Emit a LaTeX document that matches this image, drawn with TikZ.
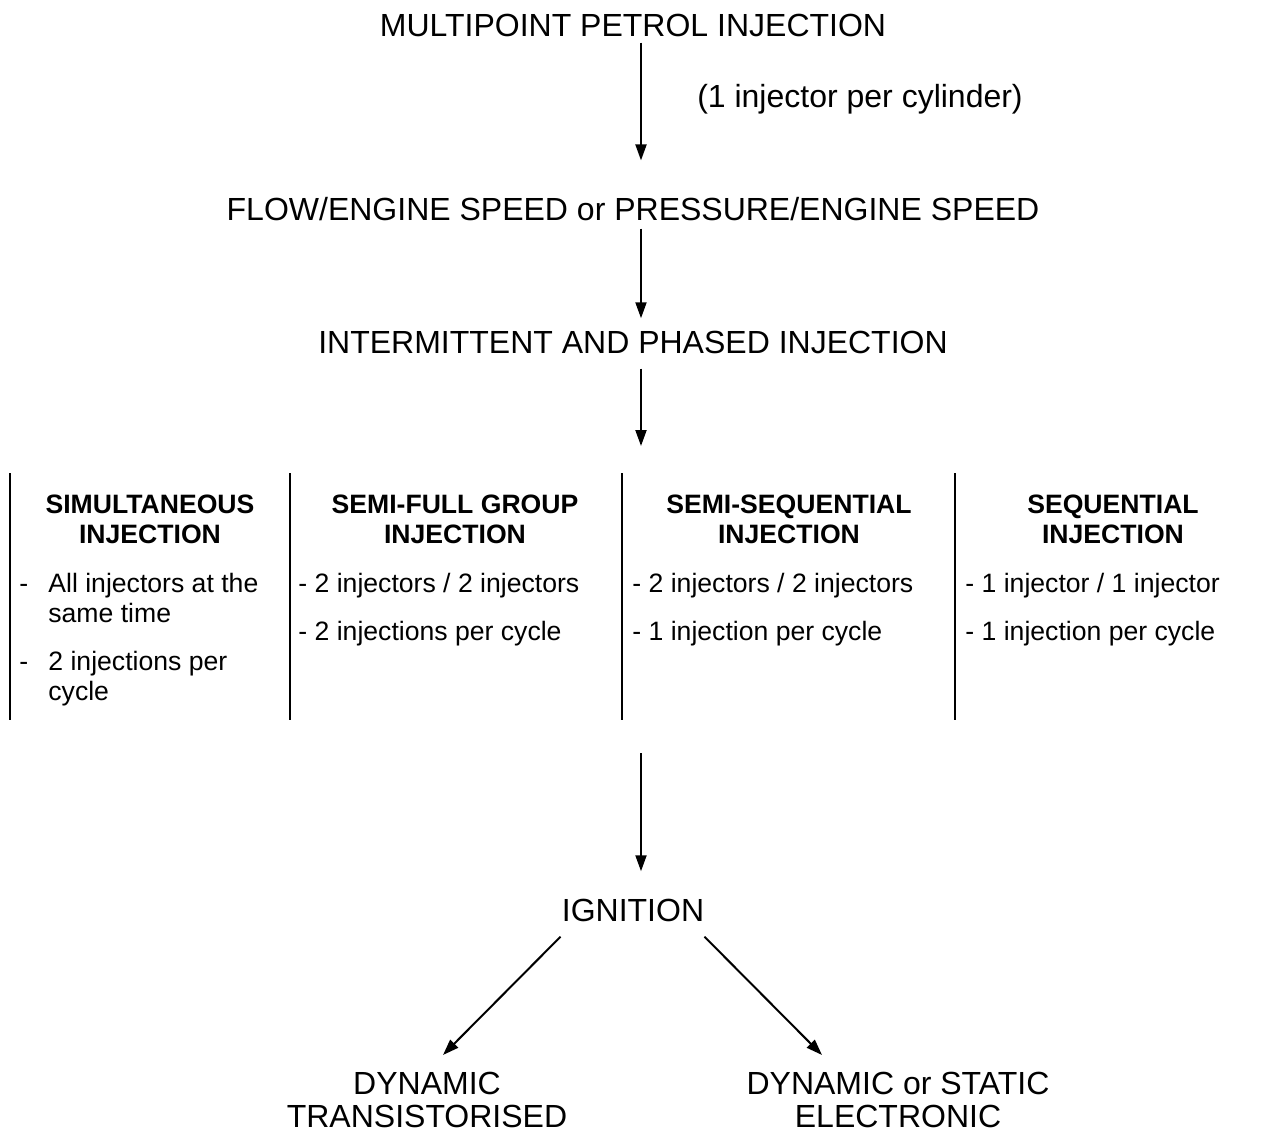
\documentclass[tikz,border=0pt]{standalone}
\usepackage{fontspec}
\setmainfont{Liberation Sans}
\usetikzlibrary{arrows.meta, positioning, calc}

\tikzset{
  mainlbl/.style={font=\fontsize{16}{16.5}\selectfont, inner sep=0pt, anchor=base},
  headlbl/.style={font=\bfseries\fontsize{13.3}{15}\selectfont, inner sep=0pt, align=center, anchor=north},
  itemlbl/.style={font=\fontsize{13.3}{15}\selectfont, inner sep=0pt, anchor=north west},
  flowarrow/.style={line width=1pt, -{Triangle[length=8pt,width=5.5pt]}},
  colline/.style={line width=0.8pt},
}

\begin{document}
\begin{tikzpicture}[x=0.5pt,y=-0.5pt]
\useasboundingbox (0,0) rectangle (1265,1135);

% top chain
\node[mainlbl] (multi) at (633,36) {MULTIPOINT PETROL INJECTION};
\node[mainlbl] (percyl) at (860,107) {(1 injector per cylinder)};
\node[mainlbl] (flow) at (633,220) {FLOW/ENGINE SPEED or PRESSURE/ENGINE SPEED};
\node[mainlbl] (phased) at (633,353) {INTERMITTENT AND PHASED INJECTION};

\draw[flowarrow, shorten <=3pt, shorten >=18pt] ([xshift=4pt]multi.south) -- ([xshift=4pt]flow.north);
\draw[flowarrow, shorten <=4pt, shorten >=6pt] ([xshift=4pt]flow.south) -- ([xshift=4pt]phased.north);
\coordinate (split) at (641,446);
\draw[flowarrow, shorten <=7.5pt] ([xshift=4pt]phased.south) -- (split);

% injection modes
\foreach \x in {10,290,622,955}
  \draw[colline] (\x,473) -- (\x,720);

\node[headlbl] (simhead) at (150,495) {SIMULTANEOUS\\INJECTION};
\node[headlbl] (grouphead) at (455,495) {SEMI-FULL GROUP\\INJECTION};
\node[headlbl] (semiseqhead) at (789,495) {SEMI-SEQUENTIAL\\INJECTION};
\node[headlbl] (seqhead) at (1113,495) {SEQUENTIAL\\INJECTION};

\node[itemlbl] (simitems) at (19,571) {\begin{tabular}{@{}p{14.5pt}@{}l@{}}
  -&All injectors at the\\&same time\\[9pt]
  -&2 injections per\\&cycle\end{tabular}};
\node[itemlbl] (groupitems) at (298,571) {\begin{tabular}{@{}l@{}}
  - 2 injectors / 2 injectors\\[9pt]- 2 injections per cycle\end{tabular}};
\node[itemlbl] (semiseqitems) at (632,571) {\begin{tabular}{@{}l@{}}
  - 2 injectors / 2 injectors\\[9pt]- 1 injection per cycle\end{tabular}};
\node[itemlbl] (seqitems) at (965,571) {\begin{tabular}{@{}l@{}}
  - 1 injector / 1 injector\\[9pt]- 1 injection per cycle\end{tabular}};

% ignition
\node[mainlbl] (ign) at (633,921) {IGNITION};
\coordinate (merge) at (641,753);
\draw[flowarrow, shorten >=13.5pt] (merge) -- ([xshift=4pt]ign.north);

\node[mainlbl, anchor=north, align=center] (dyn) at (427,1072) {DYNAMIC\\TRANSISTORISED};
\node[mainlbl, anchor=north, align=center] (elec) at (898,1072) {DYNAMIC or STATIC\\ELECTRONIC};

\draw[flowarrow] ([shift={(-1,15)}]ign.south west) -- ([shift={(16,-17)}]dyn.north);
\draw[flowarrow] ([shift={(0,15)}]ign.south east) -- ([shift={(-76,-17)}]elec.north);
\end{tikzpicture}
\end{document}
